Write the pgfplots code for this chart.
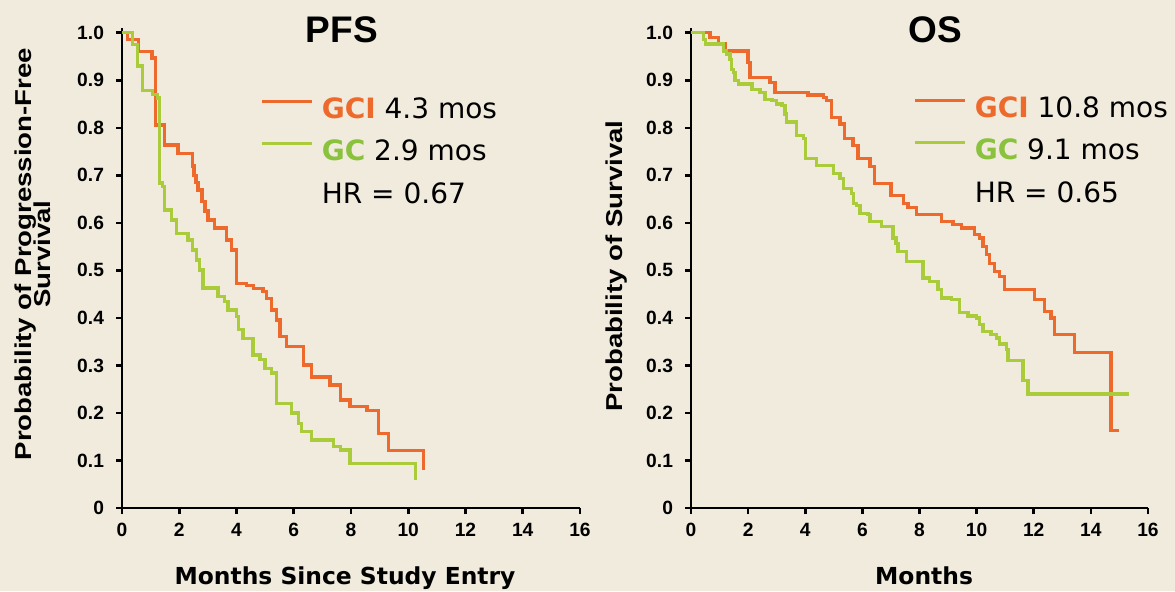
\documentclass[border=0pt]{standalone}
\usepackage{graphicx}
\usepackage{pgfplots}
\pgfplotsset{compat=1.18}
\usepackage{fontspec}
\setmainfont{Liberation Sans}
\newfontfamily\verdana{DejaVu Sans}
\definecolor{bg}{RGB}{240,235,220}
\definecolor{gci}{RGB}{238,106,44}
\definecolor{gcline}{RGB}{170,204,58}
\definecolor{gctext}{RGB}{138,194,62}

\pgfplotsset{
  kmaxis/.style={
    scale only axis, width=229pt, height=240pt,
    xmin=0, xmax=16, ymin=0, ymax=1.01,
    axis lines=left,
    axis line style={-, line width=1.3pt, black},
    every outer x axis line/.append style={-},
    every outer y axis line/.append style={-},
    xtick={0,2,4,6,8,10,12,14,16},
    ytick={0,0.1,0.2,0.3,0.4,0.5,0.6,0.7,0.8,0.9,1.0},
    yticklabels={0,0.1,0.2,0.3,0.4,0.5,0.6,0.7,0.8,0.9,1.0},
    tick align=outside, major tick length=3pt,
    tick style={line width=1.3pt, black},
    ticklabel style={font=\fontsize{9.6}{11}\selectfont\bfseries},
    /pgf/number format/assume math mode=true,
    yticklabel style={xshift=-2.5pt},
    xticklabel style={yshift=-1pt},
    clip=false,
    legend image code/.code={\draw[#1] (0pt,5pt) -- (25pt,5pt);},
    legend cell align=left,
    legend style={draw=none, fill=none, inner sep=0pt, anchor=north west,
      font=\verdana\fontsize{14}{16}\selectfont, row sep=8pt,
      nodes={inner sep=0pt, text height=10.2pt, text depth=3pt},
      /tikz/every odd column/.append style={column sep=4pt}},
    title style={anchor=center, font=\fontsize{18.5}{20}\selectfont\bfseries},
    xlabel style={anchor=base, font=\verdana\fontsize{11.7}{13}\selectfont\bfseries},
    ylabel style={anchor=center, font=\fontsize{11.5}{11}\selectfont\bfseries},
    every axis plot/.append style={const plot, line width=1.7pt},
  }
}

\begin{document}
\begin{tikzpicture}
\fill[bg] (0,0) rectangle (587.5pt,295.5pt);
\useasboundingbox (0,0) rectangle (587.5pt,295.5pt);

% ---------------- PFS ----------------
\begin{axis}[kmaxis, at={(61pt,41.5pt)}, anchor=south west,
  title={PFS}, title style={at={(axis description cs:0.480,0.971)}},
  xlabel={Months Since Study Entry},
  xlabel style={at={(axis description cs:0.487,-0.160)}},
  ylabel={\scalebox{1.2}[1]{\begin{tabular}{@{}c@{}}Probability of Progression-Free\\[-2pt]Survival\end{tabular}}},
  ylabel style={at={(axis description cs:-0.188,0.529)}},
  legend style={at={(axis description cs:0.3013,0.855)}},
]
\addplot[gci] coordinates {
(0,1.0) (0.2,0.986) (0.58,0.96) (1.05,0.947) (1.17,0.806) (1.49,0.764)
(1.95,0.746) (2.46,0.72) (2.52,0.70) (2.58,0.685) (2.65,0.669) (2.8,0.645)
(2.9,0.625) (3.0,0.606) (3.24,0.589) (3.65,0.564) (3.82,0.543) (4.0,0.473)
(4.35,0.468) (4.6,0.462) (4.93,0.455) (5.05,0.441) (5.23,0.417) (5.4,0.396)
(5.52,0.361) (5.75,0.34) (6.34,0.301) (6.63,0.276) (7.27,0.259) (7.63,0.227)
(7.97,0.213) (8.56,0.205) (8.97,0.157) (9.32,0.121) (10.53,0.08)
};
\addlegendentry{\textcolor{gci}{\bfseries GCI} 4.3 mos}
\addplot[gcline] coordinates {
(0,1.0) (0.37,0.975) (0.55,0.93) (0.72,0.878) (1.07,0.87) (1.25,0.863)
(1.3,0.684) (1.42,0.677) (1.48,0.627) (1.72,0.606) (1.9,0.578) (2.3,0.564)
(2.46,0.543) (2.6,0.522) (2.71,0.501) (2.83,0.463) (3.35,0.445) (3.59,0.434)
(3.7,0.417) (4.0,0.403) (4.06,0.375) (4.23,0.357) (4.58,0.322) (4.82,0.312)
(4.99,0.294) (5.23,0.284) (5.4,0.22) (5.93,0.2) (6.16,0.178) (6.28,0.161)
(6.63,0.143) (7.39,0.129) (7.63,0.122) (7.97,0.094) (10.26,0.059)
};
\addlegendentry{\textcolor{gctext}{\bfseries GC} 2.9 mos}
\addlegendimage{empty legend}
\addlegendentry{HR = 0.67}
\end{axis}

% ---------------- OS ----------------
\begin{axis}[kmaxis, at={(345.5pt,41.5pt)}, anchor=south west, width=228.5pt,
  title={OS}, title style={at={(axis description cs:0.534,0.971)}},
  xlabel={Months},
  xlabel style={at={(axis description cs:0.510,-0.160)}},
  ylabel={\scalebox{1.2}[1]{Probability of Survival}},
  ylabel style={at={(axis description cs:-0.162,0.504)}},
  legend style={at={(axis description cs:0.4858,0.857)}},
]
\addplot[gci] coordinates {
(0,1.0) (0.66,0.99) (0.96,0.978) (1.19,0.962) (2.0,0.937) (2.06,0.906)
(2.76,0.895) (2.94,0.874) (4.1,0.869) (4.63,0.864) (4.74,0.857) (4.92,0.822)
(5.21,0.808) (5.38,0.777) (5.67,0.763) (5.85,0.735) (6.26,0.718) (6.43,0.683)
(7.0,0.658) (7.45,0.641) (7.6,0.632) (7.89,0.617) (8.77,0.603) (9.17,0.596)
(9.47,0.589) (9.93,0.575) (10.1,0.568) (10.22,0.55) (10.34,0.533) (10.45,0.515)
(10.63,0.498) (10.8,0.487) (10.98,0.46) (12.03,0.439) (12.38,0.414) (12.61,0.4)
(12.73,0.365) (13.43,0.327) (14.71,0.163) (15.0,0.163)
};
\addlegendentry{\textcolor{gci}{\bfseries GCI} 10.8 mos}
\addplot[gcline] coordinates {
(0,1.0) (0.43,0.986) (0.5,0.976) (1.13,0.962) (1.24,0.955) (1.36,0.944)
(1.42,0.923) (1.48,0.916) (1.54,0.899) (1.66,0.892) (2.13,0.881) (2.42,0.874)
(2.59,0.86) (2.83,0.857) (3.0,0.85) (3.18,0.847) (3.29,0.829) (3.35,0.812)
(3.7,0.784) (3.94,0.777) (4.0,0.735) (4.4,0.721) (4.98,0.704) (5.21,0.693)
(5.33,0.672) (5.62,0.662) (5.68,0.641) (5.79,0.637) (5.91,0.62) (6.2,0.617)
(6.26,0.603) (6.67,0.592) (7.07,0.568) (7.18,0.557) (7.25,0.54) (7.54,0.519)
(8.12,0.484) (8.36,0.477) (8.65,0.46) (8.77,0.442) (9.11,0.439) (9.41,0.411)
(9.7,0.404) (9.99,0.4) (10.1,0.386) (10.22,0.372) (10.51,0.365) (10.69,0.358)
(10.8,0.345) (11.04,0.334) (11.1,0.31) (11.62,0.268) (11.8,0.24) (15.35,0.24)
};
\addlegendentry{\textcolor{gctext}{\bfseries GC} 9.1 mos}
\addlegendimage{empty legend}
\addlegendentry{HR = 0.65}
\end{axis}
\end{tikzpicture}
\end{document}
